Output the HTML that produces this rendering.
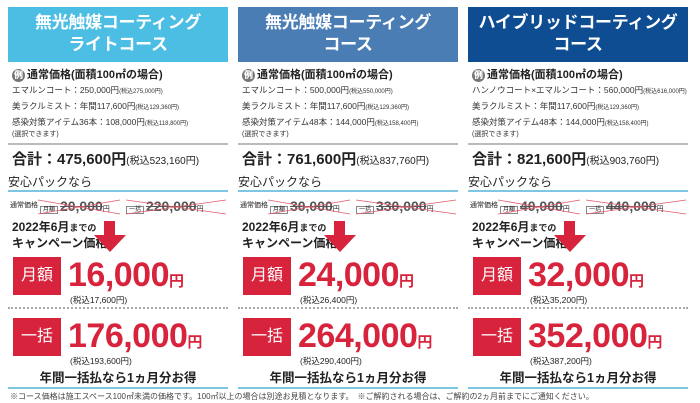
<!DOCTYPE html>
<html><head><meta charset="utf-8"><style>
*{margin:0;padding:0;box-sizing:border-box}
body{width:700px;height:403px;background:#fff;position:relative;overflow:hidden;font-family:"Liberation Sans","Noto Sans CJK JP",sans-serif;color:#222}
.col{position:absolute;top:0;width:220px;height:392px}
.col>*{position:absolute}
.hd{left:0;top:7px;width:220px;height:55px;color:#fff;font-size:17px;font-weight:bold;text-align:center;line-height:22px;padding-top:5px;white-space:nowrap;letter-spacing:-0.3px}
.ex{left:4px;top:66px;font-size:11px;font-weight:bold;white-space:nowrap}
.ex b{display:inline-block;width:13px;height:13px;border-radius:50%;background:#777;color:#fff;font-size:9px;text-align:center;line-height:13px;margin-right:2px}
.it{left:4px;font-size:8.5px;white-space:nowrap;color:#333}
.it small{font-size:6px}
.g{left:0;width:220px;height:2px;background:#bbb;top:143px}
.tot{left:4px;top:148px;font-size:15px;font-weight:bold;white-space:nowrap}
.tot small{font-size:10px;font-weight:normal}
.pk{left:0;top:173px;font-size:12px}
.bl{left:0;width:220px;height:2px;background:#7fc6e4}
.cr{left:0;top:197px;font-size:7px;white-space:nowrap;width:220px;height:18px}
.cr span{position:absolute;top:3px}
.bx{border:1px solid #888;font-size:6px;padding:0 2px;font-style:normal}
.st{font-size:14px;font-weight:bold;color:#555}
.cp{left:4px;top:220px;font-size:12px;font-weight:bold;line-height:15px}
.cp small{font-size:9px}
.ar{left:78px;top:221px;width:0;height:0}
.rb{left:5px;width:48px;height:38px;background:#d7233b;color:#fff;font-size:16px;text-align:center;line-height:38px}
.pr{left:60px;color:#d7233b;font-size:34px;font-weight:bold;letter-spacing:-0.5px;white-space:nowrap}
.pr small{font-size:15px}
.tx{left:62px;font-size:8.5px;white-space:nowrap}
.dt{left:0;top:307px;width:220px;border-top:2px dotted #aaa}
.yr{left:0;width:220px;text-align:center;top:367px;font-size:12.5px;font-weight:bold}
.xl{left:30px;top:196px}
</style></head><body>

<div class="col" style="left:8px">
<div class="hd" style="background:#4cbde3">無光触媒コーティング<br>ライトコース</div>
<div class="ex"><b>例</b>通常価格(面積100㎡の場合)</div>
<div class="it" style="top:84px">エマルンコート：250,000円<small>(税込275,000円)</small></div>
<div class="it" style="top:100px">美ラクルミスト：年間117,600円<small>(税込129,360円)</small></div>
<div class="it" style="top:116px">感染対策アイテム36本：108,000円<small>(税込118,800円)</small></div>
<div class="it" style="top:129px;font-size:7px">(選択できます)</div>
<div class="g"></div>
<div class="tot">合計：475,600円<small>(税込523,160円)</small></div>
<div class="pk">安心パックなら</div>
<div class="bl" style="top:190px"></div>
<div class="cr"><span style="left:2px">通常価格</span><span style="left:32px;top:1px"><i class="bx">月額</i> <s class="st">20,000</s>円</span><span style="left:118px;top:1px"><i class="bx">一括</i> <s class="st">220,000</s>円</span></div>
<svg class="xl" width="190" height="20"><path d="M0,4 L82,18 M0,18 L82,4 M88,4 L188,18 M88,18 L188,4" stroke="#e05a6a" stroke-width="0.8"/></svg>
<div class="cp">2022年6月<small>までの</small><br>キャンペーン価格</div>
<div class="ar"><svg width="48" height="32"><rect x="18" y="0" width="11" height="16" fill="#d7233b"/><polygon points="8,14 40,14 24,31" fill="#d7233b"/></svg></div>
<div class="rb" style="top:257px">月額</div>
<div class="pr" style="top:256px">16,000<small>円</small></div>
<div class="tx" style="top:294px">(税込17,600円)</div>
<div class="dt"></div>
<div class="rb" style="top:318px">一括</div>
<div class="pr" style="top:317px">176,000<small>円</small></div>
<div class="tx" style="top:355px">(税込193,600円)</div>
<div class="yr">年間一括払なら1ヵ月分お得</div>
<div class="bl" style="top:387px"></div>
</div>

<div class="col" style="left:238px">
<div class="hd" style="background:#4b7db5">無光触媒コーティング<br>コース</div>
<div class="ex"><b>例</b>通常価格(面積100㎡の場合)</div>
<div class="it" style="top:84px">エマルンコート：500,000円<small>(税込550,000円)</small></div>
<div class="it" style="top:100px">美ラクルミスト：年間117,600円<small>(税込129,360円)</small></div>
<div class="it" style="top:116px">感染対策アイテム48本：144,000円<small>(税込158,400円)</small></div>
<div class="it" style="top:129px;font-size:7px">(選択できます)</div>
<div class="g"></div>
<div class="tot">合計：761,600円<small>(税込837,760円)</small></div>
<div class="pk">安心パックなら</div>
<div class="bl" style="top:190px"></div>
<div class="cr"><span style="left:2px">通常価格</span><span style="left:32px;top:1px"><i class="bx">月額</i> <s class="st">30,000</s>円</span><span style="left:118px;top:1px"><i class="bx">一括</i> <s class="st">330,000</s>円</span></div>
<svg class="xl" width="190" height="20"><path d="M0,4 L82,18 M0,18 L82,4 M88,4 L188,18 M88,18 L188,4" stroke="#e05a6a" stroke-width="0.8"/></svg>
<div class="cp">2022年6月<small>までの</small><br>キャンペーン価格</div>
<div class="ar"><svg width="48" height="32"><rect x="18" y="0" width="11" height="16" fill="#d7233b"/><polygon points="8,14 40,14 24,31" fill="#d7233b"/></svg></div>
<div class="rb" style="top:257px">月額</div>
<div class="pr" style="top:256px">24,000<small>円</small></div>
<div class="tx" style="top:294px">(税込26,400円)</div>
<div class="dt"></div>
<div class="rb" style="top:318px">一括</div>
<div class="pr" style="top:317px">264,000<small>円</small></div>
<div class="tx" style="top:355px">(税込290,400円)</div>
<div class="yr">年間一括払なら1ヵ月分お得</div>
<div class="bl" style="top:387px"></div>
</div>

<div class="col" style="left:468px">
<div class="hd" style="background:#0f4d92">ハイブリッドコーティング<br>コース</div>
<div class="ex"><b>例</b>通常価格(面積100㎡の場合)</div>
<div class="it" style="top:84px">ハンノウコート×エマルンコート：560,000円<small>(税込616,000円)</small></div>
<div class="it" style="top:100px">美ラクルミスト：年間117,600円<small>(税込129,360円)</small></div>
<div class="it" style="top:116px">感染対策アイテム48本：144,000円<small>(税込158,400円)</small></div>
<div class="it" style="top:129px;font-size:7px">(選択できます)</div>
<div class="g"></div>
<div class="tot">合計：821,600円<small>(税込903,760円)</small></div>
<div class="pk">安心パックなら</div>
<div class="bl" style="top:190px"></div>
<div class="cr"><span style="left:2px">通常価格</span><span style="left:32px;top:1px"><i class="bx">月額</i> <s class="st">40,000</s>円</span><span style="left:118px;top:1px"><i class="bx">一括</i> <s class="st">440,000</s>円</span></div>
<svg class="xl" width="190" height="20"><path d="M0,4 L82,18 M0,18 L82,4 M88,4 L188,18 M88,18 L188,4" stroke="#e05a6a" stroke-width="0.8"/></svg>
<div class="cp">2022年6月<small>までの</small><br>キャンペーン価格</div>
<div class="ar"><svg width="48" height="32"><rect x="18" y="0" width="11" height="16" fill="#d7233b"/><polygon points="8,14 40,14 24,31" fill="#d7233b"/></svg></div>
<div class="rb" style="top:257px">月額</div>
<div class="pr" style="top:256px">32,000<small>円</small></div>
<div class="tx" style="top:294px">(税込35,200円)</div>
<div class="dt"></div>
<div class="rb" style="top:318px">一括</div>
<div class="pr" style="top:317px">352,000<small>円</small></div>
<div class="tx" style="top:355px">(税込387,200円)</div>
<div class="yr">年間一括払なら1ヵ月分お得</div>
<div class="bl" style="top:387px"></div>
</div>

<div style="position:absolute;left:10px;top:391px;font-size:8px;color:#444;white-space:nowrap">※コース価格は施工スペース100㎡未満の価格です。100㎡以上の場合は別途お見積となります。　※ご解約される場合は、ご解約の2ヵ月前までにご通知ください。</div>
</body></html>
